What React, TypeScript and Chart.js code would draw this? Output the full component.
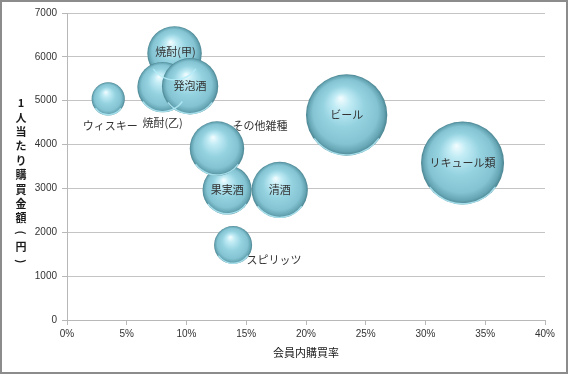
import React, { useEffect, useRef } from "react";
import { Chart, registerables } from "chart.js";

Chart.register(...registerables);

// ---- data ----
const categories = ["ウィスキー", "焼酎(甲)", "焼酎(乙)", "発泡酒", "果実酒", "その他雑種", "清酒", "スピリッツ", "ビール", "リキュール類"];
const memberRate = [0.0345, 0.09, 0.08, 0.103, 0.134, 0.1255, 0.178, 0.139, 0.234, 0.331];
const spendPerPerson = [5040, 6080, 5310, 5330, 2965, 3910, 2965, 1710, 4675, 3580];
const bubbleSize = [16, 43, 37, 46, 35, 43, 46, 21, 96, 100];
const xTicks = [0, 0.05, 0.1, 0.15, 0.2, 0.25, 0.3, 0.35, 0.4];
const yTicks = [0, 1000, 2000, 3000, 4000, 5000, 6000, 7000];
const xTitle = "会員内購買率";
const yTitle = "1人当たり購買金額(円)";

// ---- styles ----
const MAX_R = 41.5;
const JP_FONT = '"Noto Sans CJK JP", "Noto Sans", sans-serif';
const NUM_FONT = '"Liberation Sans", Arial, sans-serif';
const labelPlacement: Record<string, { dx: number; dy: number; fromRadius?: boolean }> = {
  "ウィスキー": { dx: 2, dy: 10.5, fromRadius: true },
  "焼酎(乙)": { dx: 0, dy: 10, fromRadius: true },
  "その他雑種": { dx: 43, dy: -23 },
  "スピリッツ": { dx: 41, dy: 15 },
  "焼酎(甲)": { dx: 1, dy: -2 },
};

export default function App() {
  const ref = useRef<HTMLCanvasElement | null>(null);

  useEffect(() => {
    const canvas = ref.current;
    if (!canvas) return;
    const maxSize = Math.max(...bubbleSize);
    const points = categories.map((_, i) => ({
      x: memberRate[i],
      y: spendPerPerson[i],
      r: MAX_R * Math.sqrt(bubbleSize[i] / maxSize),
    }));

    const sphereFill = (ctx: any) => {
      const chart = ctx.chart;
      const xs = chart.scales?.x;
      const ys = chart.scales?.y;
      const raw = ctx.raw;
      if (!xs || !ys || !raw) return "#8ccddc";
      const px = xs.getPixelForValue(raw.x);
      const py = ys.getPixelForValue(raw.y);
      const r = raw.r;
      if (!isFinite(px) || !isFinite(py)) return "#8ccddc";
      const g = chart.ctx.createRadialGradient(px - 0.15 * r, py - 0.42 * r, 0, px, py, r);
      g.addColorStop(0, "#f4fdff");
      g.addColorStop(0.2, "#c2ecf5");
      g.addColorStop(0.5, "#96d3e1");
      g.addColorStop(0.8, "#84c3d2");
      g.addColorStop(0.93, "#66a5b4");
      g.addColorStop(1, "#4a8491");
      return g;
    };

    const decorPlugin = {
      id: "decor",
      afterDatasetsDraw(chart: any) {
        const c = chart.ctx;
        const meta = chart.getDatasetMeta(0);
        // bottom light rim on the spheres
        meta.data.forEach((el: any, i: number) => {
          const r = points[i].r;
          c.save();
          c.beginPath();
          c.arc(el.x, el.y, r - 0.8, Math.PI * 0.2, Math.PI * 0.8);
          c.strokeStyle = "rgba(180,236,248,0.85)";
          c.lineWidth = 1.4;
          c.stroke();
          c.restore();
        });
        // data labels
        c.save();
        c.font = `11px ${JP_FONT}`;
        c.fillStyle = "#333333";
        c.textAlign = "center";
        c.textBaseline = "middle";
        meta.data.forEach((el: any, i: number) => {
          const name = categories[i];
          const p = labelPlacement[name];
          let x = el.x;
          let y = el.y;
          if (p) {
            x += p.dx;
            y += p.fromRadius ? points[i].r + p.dy : p.dy;
          }
          c.fillText(name, x, y);
        });
        c.restore();
      },
      afterDraw(chart: any) {
        const c = chart.ctx;
        const area = chart.chartArea;
        c.save();
        c.fillStyle = "#1a1a1a";
        c.textAlign = "center";
        c.textBaseline = "middle";
        c.font = `11px ${JP_FONT}`;
        c.fillText(xTitle, (area.left + area.right) / 2, 351);
        // stacked vertical y title
        c.font = `bold 11px ${JP_FONT}`;
        const chars = Array.from(yTitle);
        const step = 14.4;
        const startY = 101;
        chars.forEach((ch, i) => {
          const y = startY + i * step;
          if (ch === "(" || ch === ")") {
            c.save();
            c.translate(19, y);
            c.rotate(Math.PI / 2);
            c.fillText(ch, 0, 0);
            c.restore();
          } else {
            c.fillText(ch, 19, y);
          }
        });
        c.restore();
      },
    };

    const chart = new Chart(canvas, {
      type: "bubble",
      data: {
        datasets: [
          {
            label: "酒類",
            data: points,
            backgroundColor: sphereFill,
            borderWidth: 0,
            hoverBorderWidth: 0,
            clip: false,
          } as any,
        ],
      },
      options: {
        responsive: false,
        animation: false,
        events: [],
        layout: { autoPadding: false, padding: { top: 11, right: 21, bottom: 0, left: 0 } },
        plugins: {
          legend: { display: false },
          tooltip: { enabled: false },
        },
        scales: {
          x: {
            type: "linear",
            min: 0,
            max: 0.4,
            afterBuildTicks: (scale: any) => {
              scale.ticks = xTicks.map((v) => ({ value: v }));
            },
            afterFit: (scale: any) => {
              scale.height = 52;
            },
            grid: {
              drawOnChartArea: false,
              drawTicks: true,
              tickLength: 5,
              color: "#b8b8b8",
              tickColor: "#b8b8b8",
            },
            border: { color: "#b8b8b8", width: 1 },
            ticks: {
              padding: 3,
              color: "#333333",
              font: { family: NUM_FONT, size: 10 },
              maxRotation: 0,
              autoSkip: false,
              callback: (v: any) => `${Math.round(Number(v) * 100)}%`,
            },
          },
          y: {
            type: "linear",
            min: 0,
            max: 7000,
            afterBuildTicks: (scale: any) => {
              scale.ticks = yTicks.map((v) => ({ value: v }));
            },
            afterFit: (scale: any) => {
              scale.width = 65;
            },
            grid: {
              drawOnChartArea: true,
              drawTicks: true,
              tickLength: 5,
              color: "#c4c4c4",
              tickColor: "#b8b8b8",
            },
            border: { color: "#b8b8b8", width: 1 },
            ticks: {
              padding: 5,
              color: "#333333",
              font: { family: NUM_FONT, size: 10 },
              autoSkip: false,
              callback: (v: any) => String(v),
            },
          },
        },
      },
      plugins: [decorPlugin],
    });

    return () => chart.destroy();
  }, []);

  return (
    <div
      style={{
        position: "absolute",
        left: 0,
        top: 0,
        width: 568,
        height: 374,
        boxSizing: "border-box",
        border: "2px solid #8c8c8c",
        background: "#ffffff",
      }}
    >
      <canvas ref={ref} width={564} height={370} style={{ width: 564, height: 370, display: "block" }} />
    </div>
  );
}
